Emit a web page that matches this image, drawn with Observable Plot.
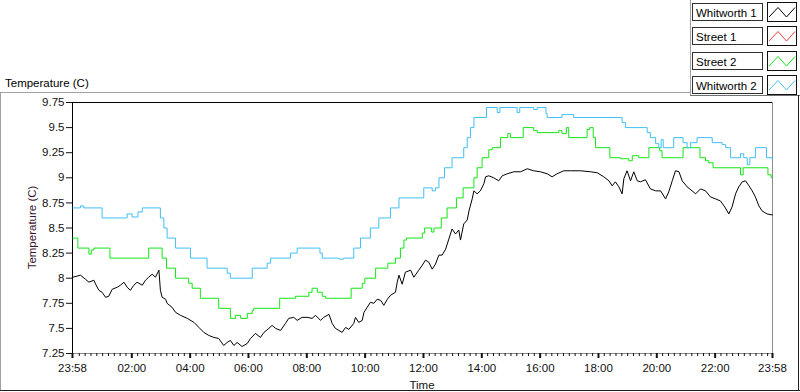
<!DOCTYPE html>
<html>
<head>
<meta charset="utf-8">
<script src="https://cdn.jsdelivr.net/npm/d3@7"></script>
<script src="https://cdn.jsdelivr.net/npm/@observablehq/plot@0.6"></script>
<style>
  html, body { margin: 0; padding: 0; background: #fff; }
  #chart { position: relative; width: 800px; height: 392px; overflow: hidden; }
</style>
</head>
<body>
<div id="chart"></div>
<script>
// ---- data (time in hours after midnight; the chart starts at 23:58 the day before) ----
const seriesNames  = ["Whitworth 1", "Street 1", "Street 2", "Whitworth 2"];
const seriesColors = ["#000000", "#f03c3c", "#14e614", "#40bff5"];

const whitworth1 = [
  [-0.02,8.01],[0.24,8.03],[0.41,7.99],[0.53,7.96],[0.70,7.98],[0.76,7.94],[0.87,7.88],[0.98,7.86],
  [1.10,7.81],[1.21,7.82],[1.33,7.89],[1.50,7.91],[1.61,7.93],[1.73,7.96],[1.84,7.91],[1.95,7.88],
  [2.07,7.93],[2.18,7.96],[2.36,7.93],[2.47,7.98],[2.58,8.01],[2.70,8.04],[2.81,8.01],[2.93,8.08],
  [2.98,7.88],[3.04,7.81],[3.16,7.79],[3.21,7.75],[3.38,7.71],[3.50,7.66],[3.67,7.63],[3.90,7.60],
  [4.13,7.56],[4.30,7.51],[4.47,7.46],[4.64,7.43],[4.81,7.41],[4.98,7.40],[5.15,7.33],[5.27,7.36],
  [5.38,7.38],[5.50,7.33],[5.61,7.36],[5.78,7.32],[5.96,7.35],[6.07,7.40],[6.24,7.45],[6.41,7.41],
  [6.53,7.46],[6.70,7.50],[6.81,7.53],[6.93,7.50],[7.10,7.48],[7.27,7.55],[7.38,7.60],[7.55,7.61],
  [7.67,7.58],[7.84,7.61],[8.01,7.61],[8.18,7.60],[8.30,7.63],[8.47,7.58],[8.58,7.61],[8.76,7.64],
  [8.87,7.55],[8.98,7.50],[9.10,7.48],[9.21,7.46],[9.33,7.51],[9.44,7.49],[9.61,7.55],[9.67,7.61],
  [9.78,7.56],[9.90,7.58],[9.96,7.66],[10.07,7.71],[10.18,7.76],[10.30,7.75],[10.41,7.79],[10.53,7.78],
  [10.64,7.73],[10.76,7.79],[10.87,7.83],[11.04,7.86],[11.10,7.96],[11.16,8.03],[11.27,7.94],[11.38,8.06],
  [11.56,8.08],[11.67,8.01],[11.84,8.08],[11.96,8.13],[12.07,8.18],[12.18,8.16],[12.30,8.09],[12.41,8.14],
  [12.53,8.23],[12.64,8.23],[12.76,8.29],[12.87,8.39],[12.98,8.49],[13.10,8.44],[13.21,8.48],[13.27,8.38],
  [13.38,8.54],[13.50,8.58],[13.56,8.67],[13.67,8.79],[13.73,8.87],[13.84,8.84],[13.95,8.87],[14.07,8.94],
  [14.13,9.01],[14.24,9.02],[14.41,9.00],[14.58,8.97],[14.70,9.02],[14.87,9.04],[15.10,9.06],[15.33,9.06],
  [15.56,9.09],[15.78,9.07],[16.01,9.06],[16.24,9.04],[16.41,9.01],[16.58,9.04],[16.81,9.07],[17.04,9.07],
  [17.38,9.07],[17.73,9.06],[17.96,9.05],[18.18,9.01],[18.36,8.97],[18.47,8.92],[18.58,8.96],[18.70,8.91],
  [18.81,8.84],[18.87,8.99],[18.98,9.07],[19.10,8.97],[19.21,9.06],[19.33,8.97],[19.44,8.96],[19.61,8.98],
  [19.78,8.89],[19.96,8.87],[20.13,8.87],[20.30,8.79],[20.41,8.86],[20.53,8.97],[20.64,9.07],[20.76,9.06],
  [20.87,8.97],[21.04,8.91],[21.21,8.87],[21.33,8.84],[21.50,8.89],[21.67,8.87],[21.84,8.81],[22.01,8.79],
  [22.18,8.77],[22.33,8.71],[22.47,8.64],[22.58,8.71],[22.70,8.84],[22.81,8.91],[22.93,8.96],[23.04,8.97],
  [23.16,8.92],[23.27,8.87],[23.38,8.81],[23.50,8.72],[23.61,8.67],[23.78,8.64],[23.96,8.63]
];

const street1 = []; // listed in the legend, no trace visible

const street2 = [
  [-0.02,8.40],[0.15,8.30],[0.53,8.24],[0.61,8.28],[0.70,8.30],[1.25,8.20],[2.58,8.30],[3.04,8.20],
  [3.19,8.10],[3.50,8.00],[3.95,7.95],[4.07,7.90],[4.35,7.80],[4.98,7.70],[5.38,7.60],[5.55,7.63],
  [5.73,7.60],[5.96,7.65],[6.13,7.68],[6.18,7.70],[7.07,7.80],[7.61,7.82],[8.07,7.86],[8.18,7.90],
  [8.36,7.86],[8.53,7.82],[8.64,7.80],[9.52,7.90],[9.90,7.95],[9.99,8.00],[10.36,8.10],[10.78,8.15],
  [11.04,8.20],[11.21,8.30],[11.33,8.38],[11.42,8.40],[11.96,8.45],[12.04,8.50],[12.28,8.46],[12.36,8.50],
  [12.61,8.60],[12.81,8.70],[13.13,8.80],[13.36,8.90],[13.73,9.00],[13.84,9.10],[14.01,9.20],[14.24,9.28],
  [14.36,9.30],[14.64,9.40],[14.89,9.44],[14.98,9.40],[15.42,9.50],[15.78,9.47],[15.90,9.45],[16.64,9.47],
  [16.75,9.44],[16.90,9.50],[16.98,9.40],[17.61,9.48],[17.70,9.50],[17.82,9.40],[17.90,9.30],[18.39,9.20],
  [18.76,9.19],[19.04,9.17],[19.16,9.22],[19.38,9.20],[19.73,9.30],[20.10,9.27],[20.18,9.20],[20.90,9.30],
  [21.48,9.20],[21.67,9.17],[21.78,9.15],[21.93,9.10],[22.87,9.03],[22.96,9.10],[23.81,9.03],[23.92,9.00],
  [23.96,9.00]
];

const whitworth2 = [
  [-0.02,8.70],[0.24,8.72],[0.35,8.70],[0.98,8.60],[1.84,8.64],[2.01,8.61],[2.21,8.66],[2.36,8.70],
  [2.98,8.60],[3.10,8.50],[3.21,8.40],[3.50,8.30],[4.01,8.20],[4.58,8.10],[5.27,8.05],[5.38,8.00],
  [6.13,8.10],[6.64,8.15],[6.76,8.20],[7.44,8.25],[7.67,8.30],[8.45,8.25],[8.53,8.20],[9.10,8.19],
  [9.27,8.20],[9.61,8.30],[9.84,8.40],[10.18,8.50],[10.47,8.60],[10.87,8.70],[11.16,8.80],[12.01,8.90],
  [12.30,8.87],[12.41,8.90],[12.53,9.00],[12.72,9.10],[12.98,9.20],[13.38,9.30],[13.50,9.40],[13.61,9.50],
  [13.73,9.60],[14.16,9.70],[14.53,9.65],[14.62,9.70],[15.21,9.65],[15.30,9.70],[15.78,9.68],[15.90,9.70],
  [16.20,9.64],[16.24,9.60],[16.75,9.63],[17.15,9.60],[18.81,9.55],[18.93,9.50],[19.67,9.45],[19.78,9.40],
  [19.96,9.34],[20.07,9.30],[20.15,9.38],[20.22,9.30],[20.58,9.40],[20.90,9.35],[21.04,9.30],[21.16,9.35],
  [21.38,9.40],[21.90,9.35],[22.24,9.33],[22.36,9.30],[22.53,9.20],[22.87,9.24],[22.98,9.20],[23.10,9.13],
  [23.19,9.20],[23.38,9.30],[23.76,9.20],[23.96,9.18]
];

const yTicks = [7.25, 7.5, 7.75, 8, 8.25, 8.5, 8.75, 9, 9.25, 9.5, 9.75];
const xTickHours  = [-2/60, 2, 4, 6, 8, 10, 12, 14, 16, 18, 20, 22, 24 - 2/60];
const xTickLabels = ["23:58","02:00","04:00","06:00","08:00","10:00","12:00","14:00","16:00","18:00","20:00","22:00","23:58"];

// ---- chart ----
const xMin = xTickHours[0], xMax = xTickHours[xTickHours.length - 1];
const minorTicks = d3.range(12, 24 * 60, 12).map(m => m / 60).filter(h => Math.abs(h % 2) > 1e-6 && h < xMax);
const seriesData = [whitworth1, street1, street2, whitworth2];
const curves = ["linear", "step-after", "step-after", "step-after"];

const lineMarks = seriesData.map((data, i) =>
  Plot.line(data, {
    x: d => d[0], y: d => d[1],
    stroke: seriesColors[i], strokeWidth: 1, curve: curves[i]
  })
);

const svg = Plot.plot({
  width: 800, height: 392,
  marginLeft: 72, marginRight: 28, marginTop: 102, marginBottom: 39,
  style: { fontFamily: "'Liberation Sans', Arial, sans-serif", fontSize: "11.5px", color: "#111", background: "#fff", overflow: "visible" },
  x: { domain: [xMin, xMax] },
  y: { domain: [7.25, 9.75] },
  marks: [
    Plot.ruleY([7.25], { stroke: "#8c8c8c" }),
    Plot.ruleX([xMax], { stroke: "#8c8c8c" }),
    Plot.ruleY([9.75], { stroke: "#000" }),
    Plot.ruleX([xMin], { stroke: "#000" }),
    ...lineMarks,
    Plot.axisY(yTicks, { anchor: "left", tickSize: 6, tickPadding: 2, tickFormat: d => String(d), label: null, fontSize: 11.5 }),
    Plot.axisX(minorTicks, { anchor: "bottom", tickSize: 3, tickFormat: () => "", label: null }),
    Plot.axisX(xTickHours, { anchor: "bottom", tickSize: 5, tickPadding: 5, strokeWidth: 2,
      tickFormat: d => xTickLabels[xTickHours.indexOf(d)], label: null, fontSize: 11.5 })
  ]
});

// ---- decorations: titles, panel borders and legend ----
const s = d3.select(svg);
const deco = s.append("g")
  .attr("font-family", "'Liberation Sans', Arial, sans-serif")
  .attr("font-size", "11.5px")
  .attr("text-anchor", "start");

deco.append("text").attr("x", 5).attr("y", 87).attr("text-anchor", "start").attr("fill", "#000").text("Temperature (C)");
deco.append("text").attr("transform", "translate(36,227.5) rotate(-90)").attr("text-anchor", "middle")
  .attr("fill", "#3a1630").text("Temperature (C)");
deco.append("text").attr("x", 422).attr("y", 388.5).attr("text-anchor", "middle").attr("fill", "#111").text("Time");

const border = (x1, y1, x2, y2, c) => deco.append("line")
  .attr("x1", x1).attr("y1", y1).attr("x2", x2).attr("y2", y2)
  .attr("stroke", c).attr("stroke-width", 1).attr("shape-rendering", "crispEdges");
border(0, 92.5, 690, 92.5, "#a0a0a0");
border(690.5, 0, 690.5, 95, "#a0a0a0");
border(690, 95.5, 800, 95.5, "#707070");
border(0.5, 92, 0.5, 391, "#a0a0a0");
border(0, 390.5, 800, 390.5, "#202020");
border(798.5, 95, 798.5, 391, "#202020");

seriesNames.forEach((name, i) => {
  const ty = Math.round(3 + i * 24.4) + 0.5;
  deco.append("rect").attr("x", 692.5).attr("y", ty).attr("width", 70).attr("height", 17)
    .attr("fill", "#fff").attr("stroke", "#303030").attr("shape-rendering", "crispEdges");
  deco.append("rect").attr("x", 767.5).attr("y", ty - 1).attr("width", 29).attr("height", 19)
    .attr("fill", "#fff").attr("stroke", "#101010").attr("shape-rendering", "crispEdges");
  deco.append("text").attr("x", 696).attr("y", ty + 13).attr("text-anchor", "start").attr("fill", "#000").text(name);
  const b = ty + 13.5, t = ty + 4;
  deco.append("polyline")
    .attr("points", `769,${b} 778,${t} 786.5,${b} 795,${t}`)
    .attr("fill", "none").attr("stroke", seriesColors[i]).attr("stroke-width", 1);
});

document.getElementById("chart").appendChild(svg);
</script>
</body>
</html>
